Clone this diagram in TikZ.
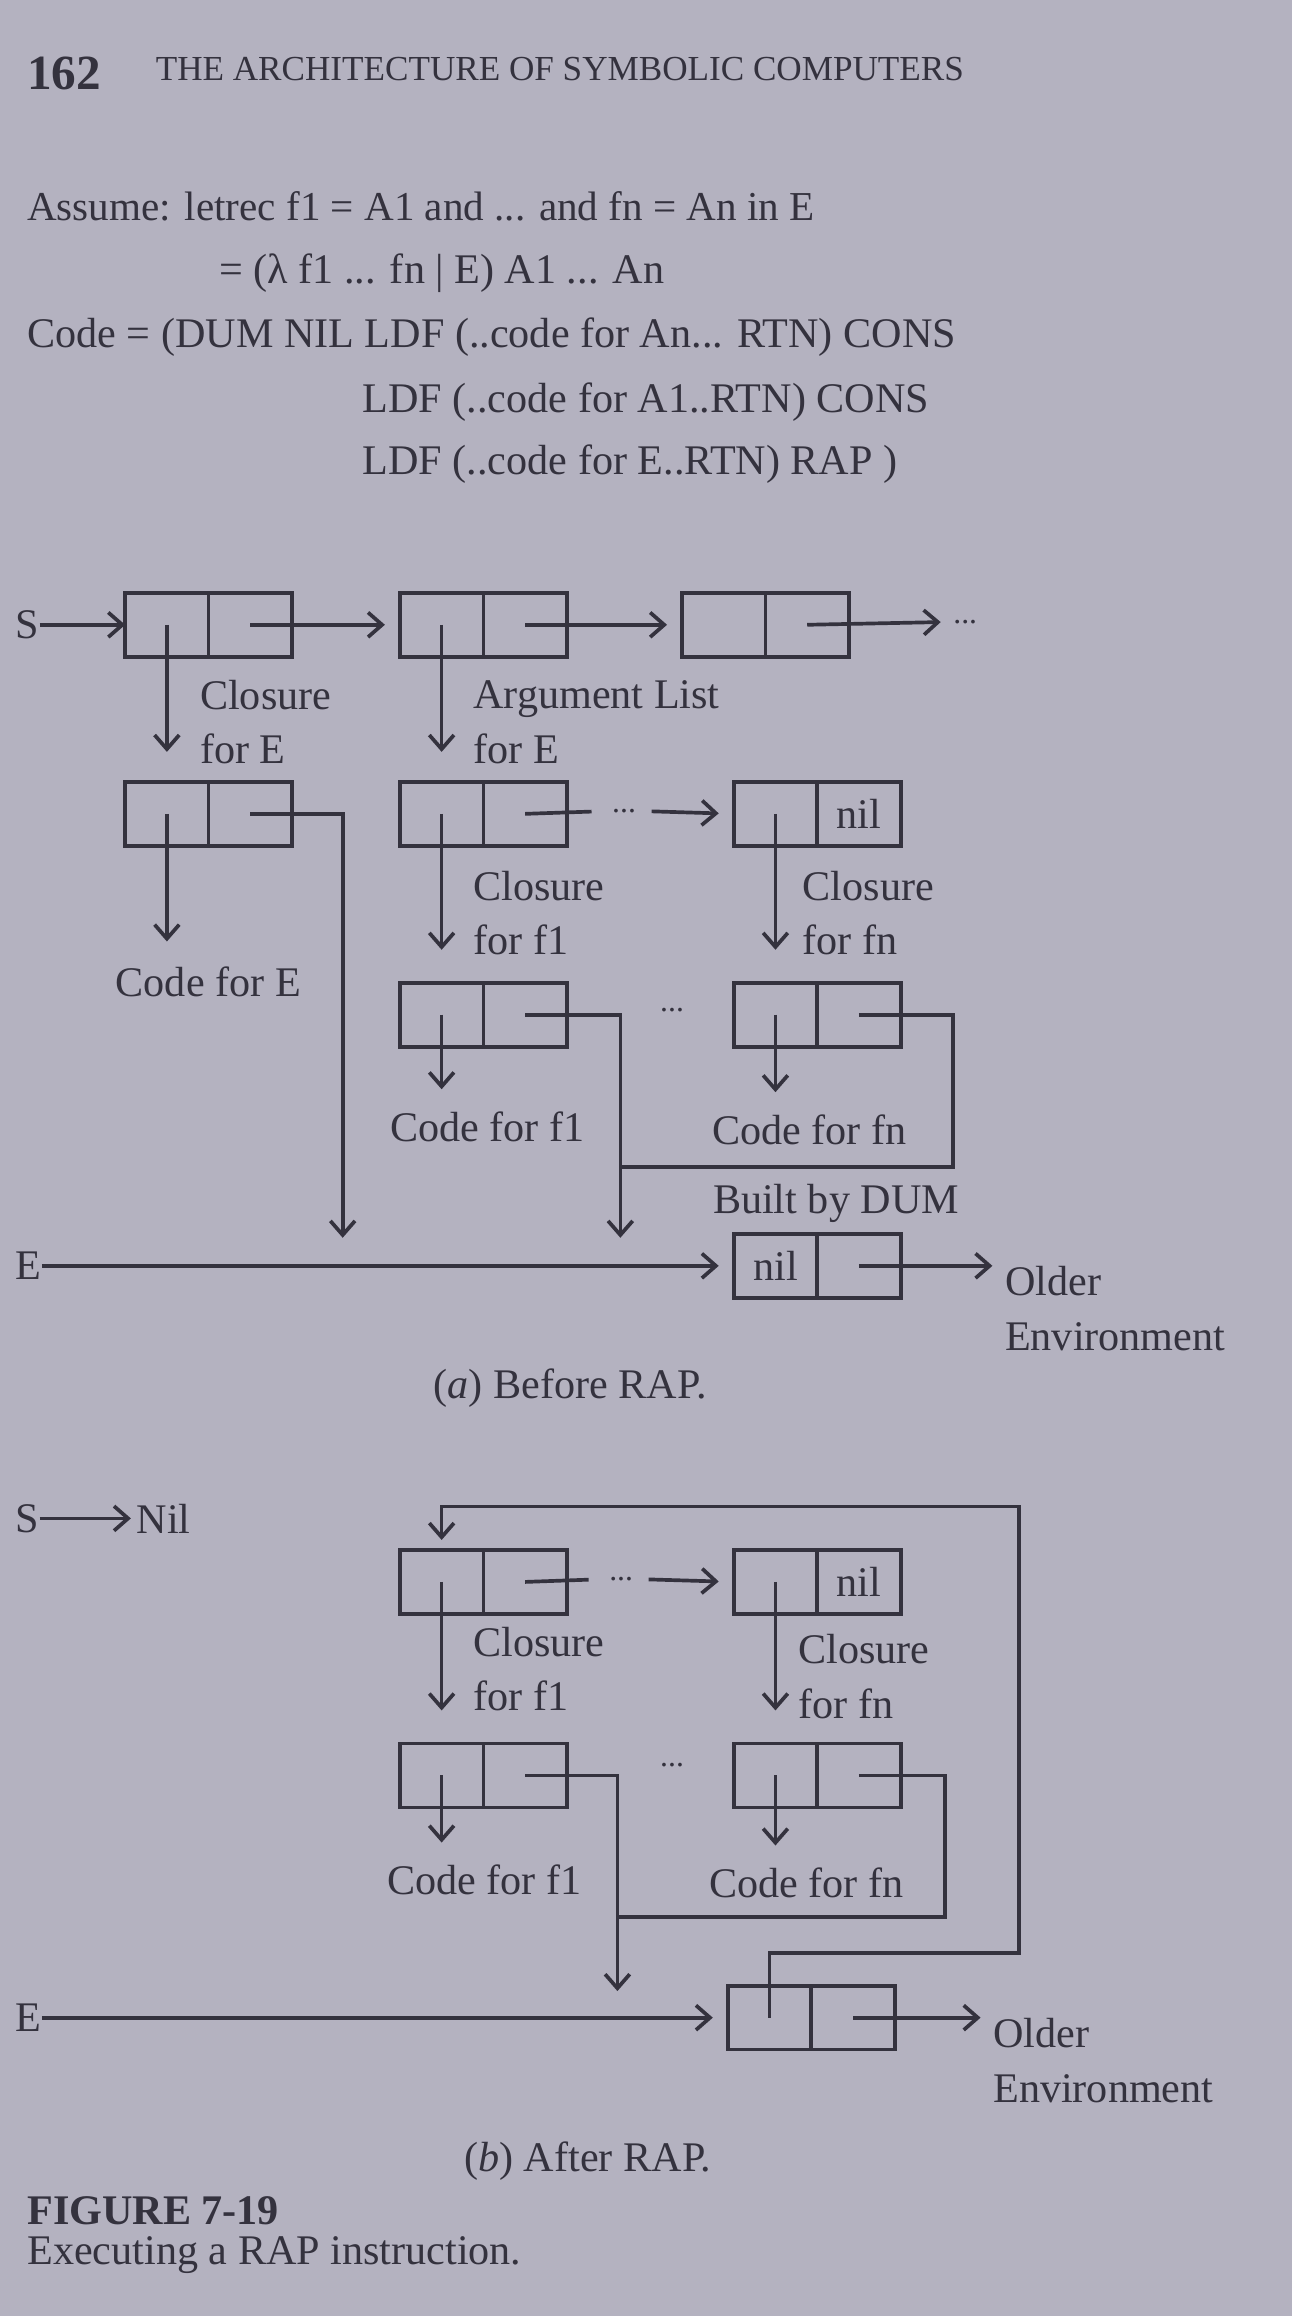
\documentclass[tikz,border=0pt]{standalone}
\usepackage{fontspec}
\setmainfont{Liberation Serif}
\usetikzlibrary{arrows.meta,positioning}
\definecolor{paper}{RGB}{180,178,192}
\definecolor{ink}{RGB}{52,50,62}
\tikzset{
  cell/.style={draw=ink, line width=1.05pt, minimum width=8.35mm, minimum height=6.4mm, inner sep=0pt, outer sep=0pt},
  ptr/.style={draw=ink, line width=1.05pt, -{Straight Barb[length=4pt,width=7pt]}},
  wire/.style={draw=ink, line width=1.05pt},
  lbl/.style={inner sep=0pt, align=left, anchor=west},
  txt/.style={inner sep=0pt, anchor=west},
}
% a cons cell: name, centre of left half, car text, cdr text
\newcommand{\conscell}[4]{%
  \node[cell] (#1l) at (#2) {#3};
  \node[cell, right=0pt of #1l] (#1r) {#4};
}

\begin{document}
\begin{tikzpicture}[x=0.14777mm, y=-0.14777mm, font=\fontsize{12}{15.5}\selectfont, color=ink]
	% Page
	\fill[paper] (0,0) rectangle (875,1568);
	\useasboundingbox (0,0) rectangle (875,1568);
	
	% Heading and code
	\node[txt, font=\fontsize{14}{16}\bfseries] (pageno) at (18,50) {162};
	\node[txt, font=\fontsize{10}{12}\selectfont] (runhead) at (105,47) {THE ARCHITECTURE OF SYMBOLIC COMPUTERS};
	\node[txt, font=\fontsize{11.7}{14}\selectfont] (assume) at (18,140) {Assume: letrec f1 = A1 and ... and fn = An in E};
	\node[txt] (lambda) at (148,185) {= (λ f1 ... fn | E) A1 ... An};
	\node[txt] (codeA) at (18,228) {Code = (DUM NIL LDF (..code for An... RTN) CONS};
	\node[txt] (codeB) at (245,272) {LDF (..code for A1..RTN) CONS};
	\node[txt] (codeC) at (245,314) {LDF (..code for E..RTN) RAP )};
	
	% (a) Stack
	\node[txt] (sA) at (10,423) {S};
	\conscell{stkA}{113,423}{}{}
	\conscell{stkB}{299,423}{}{}
	\conscell{stkC}{490,423}{}{}
	\node[txt] (moreA) at (645,421) {\small...};
	\draw[ptr] (sA) -- (stkAl.west);
	\draw[ptr, shorten >=1.5mm] (stkAr.center) -- (stkBl.west);
	\draw[ptr, shorten >=1.5mm] (stkBr.center) -- (stkCl.west);
	\draw[ptr, shorten >=1.2mm] (stkCr.center) -- (moreA.west);
	
	% (a) Closure for E
	\conscell{cloE}{113,551}{}{}
	\draw[ptr, shorten >=3mm] (stkAl.center) -- (cloEl.north);
	\node[lbl] (lblCloE) at (135,489) {Closure\\for E};
	\node[inner sep=0pt] (codeE) at (141,665) {Code for E};
	\draw[ptr, shorten >=2.5mm] (cloEl.center) -- (cloEl.center |- codeE.north);
	\coordinate (envA1) at (232,838);
	\draw[ptr] (cloEr.center) -| (envA1);
	
	% (a) Argument list
	\conscell{arg1}{299,551}{}{}
	\conscell{argn}{525,551}{}{nil}
	\draw[ptr, shorten >=3mm] (stkBl.center) -- (arg1l.north);
	\node[lbl] (lblArg) at (320,489) {Argument List\\for E};
	\node[txt] (dotsA1) at (414,549) {\small...};
	\draw[wire, shorten >=2mm] (arg1r.center) -- (dotsA1.west);
	\draw[ptr, shorten <=1.5mm, shorten >=1.5mm] (dotsA1.east) -- (argnl.west);
	
	% (a) Closures for f1 ... fn
	\conscell{clo1}{299,687}{}{}
	\conscell{clon}{525,687}{}{}
	\draw[ptr, shorten >=3.3mm] (arg1l.center) -- (clo1l.north);
	\draw[ptr, shorten >=3.3mm] (argnl.center) -- (clonl.north);
	\node[lbl] (lblClo1) at (320,618) {Closure\\for f1};
	\node[lbl] (lblClon) at (543,618) {Closure\\for fn};
	\node (dotsA2) at (455,684) {\small...};
	\node[inner sep=0pt] (code1A) at (330,763) {Code for f1};
	\node[inner sep=0pt] (codenA) at (548,765) {Code for fn};
	\draw[ptr, shorten >=2.2mm] (clo1l.center) -- (clo1l.center |- code1A.north);
	\draw[ptr, shorten >=2.2mm] (clonl.center) -- (clonl.center |- codenA.north);
	\coordinate (envA2) at (420,838);
	\draw[ptr] (clo1r.center) -| (envA2);
	\draw[wire] (clonr.center) -| (645,790) -- (420,790);
	
	% (a) Environment
	\node (built) at (566,815) {Built by DUM};
	\conscell{dum}{525,857}{nil}{}
	\node[txt] (eA) at (10,857) {E};
	\draw[ptr, shorten >=1.5mm] (eA) -- (duml.west);
	\node[lbl, anchor=north west] (oldA) at (680,857) {Older\\Environment};
	\draw[ptr, shorten >=1.2mm] (dumr.center) -- (dumr.center -| oldA.west);
	\node (capA) at (386,940) {(\textit{a}) Before RAP.};
	
	% (b) Stack
	\node[txt] (sB) at (10,1028) {S};
	\node[txt] (nilB) at (92,1028) {Nil};
	\draw[ptr, shorten >=0.5mm] (sB) -- (nilB);
	
	% (b) Closures for f1 ... fn
	\conscell{bArg1}{299,1071}{}{}
	\conscell{bArgn}{525,1071}{}{nil}
	\node[txt] (dotsB1) at (412,1069) {\small...};
	\draw[wire, shorten >=2mm] (bArg1r.center) -- (dotsB1.west);
	\draw[ptr, shorten <=1.5mm, shorten >=1.5mm] (dotsB1.east) -- (bArgnl.west);
	\conscell{bClo1}{299,1202}{}{}
	\conscell{bClon}{525,1202}{}{}
	\draw[ptr, shorten >=3.3mm] (bArg1l.center) -- (bClo1l.north);
	\draw[ptr, shorten >=3.3mm] (bArgnl.center) -- (bClonl.north);
	\node[lbl] (lblClo1B) at (320,1130) {Closure\\for f1};
	\node[lbl] (lblClonB) at (540,1135) {Closure\\for fn};
	\node (dotsB2) at (455,1195) {\small...};
	\node[inner sep=0pt] (code1B) at (328,1273) {Code for f1};
	\node[inner sep=0pt] (codenB) at (546,1275) {Code for fn};
	\draw[ptr, shorten >=2.2mm] (bClo1l.center) -- (bClo1l.center |- code1B.north);
	\draw[ptr, shorten >=2.2mm] (bClonl.center) -- (bClonl.center |- codenB.north);
	\coordinate (envB) at (418,1348);
	\draw[ptr] (bClo1r.center) -| (envB);
	\draw[wire] (bClonr.center) -| (640,1298) -- (418,1298);
	
	% (b) Environment, now closed into a loop
	\node[txt] (eB) at (10,1366) {E};
	\conscell{bDum}{521,1366}{}{}
	\draw[ptr, shorten >=1.5mm] (eB) -- (bDuml.west);
	\draw[ptr, shorten >=1mm] (bDuml.center) |- (690,1322) |- (299,1020) -- (bArg1l.north);
	\node[lbl, anchor=north west] (oldB) at (672,1366) {Older\\Environment};
	\draw[ptr, shorten >=1.2mm] (bDumr.center) -- (bDumr.center -| oldB.west);
	\node (capB) at (398,1463) {(\textit{b}) After RAP.};
	
	% Figure caption
	\node[txt, font=\fontsize{12}{14}\bfseries] (figno) at (18,1497) {FIGURE 7-19};
	\node[txt] (figcap) at (18,1527) {Executing a RAP instruction.};
\end{tikzpicture}
\end{document}
